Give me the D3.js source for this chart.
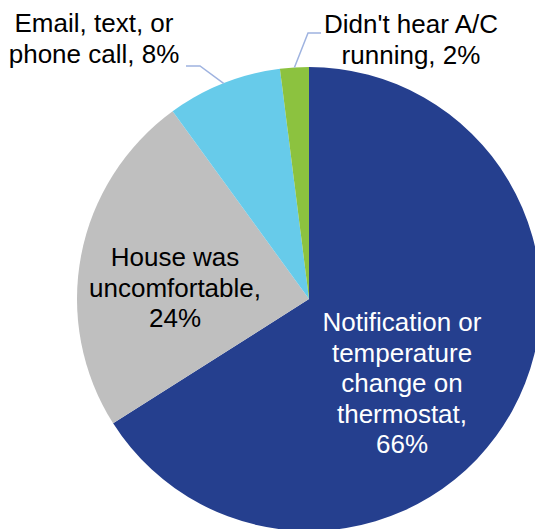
<!DOCTYPE html>
<html>
<head>
<meta charset="utf-8">
<script src="https://cdn.jsdelivr.net/npm/d3@7"></script>
<style>
  html, body { margin: 0; padding: 0; background: #fff; }
  svg { display: block; }
  text { font-family: "Liberation Sans", Arial, sans-serif; }
</style>
</head>
<body>
<svg id="chart" width="535" height="529"></svg>
<script>
const categories = [
  "Notification or temperature change on thermostat",
  "House was uncomfortable",
  "Email, text, or phone call",
  "Didn't hear A/C running"
];
const values = [66, 24, 8, 2];
const labelLines = [
  ["Notification or", "temperature", "change on", "thermostat,", "66%"],
  ["House was", "uncomfortable,", "24%"],
  ["Email, text, or", "phone call, 8%"],
  ["Didn't hear A/C", "running, 2%"]
];
const colors = ["#253F8E", "#BFBFBF", "#67CBEA", "#8CC23F"];

const W = 535, H = 529;
const cx = 309, cy = 299, R = 232;
const fontSize = 26, lineH = 30.5;

const svg = d3.select("#chart");
const g = svg.append("g").attr("transform", `translate(${cx},${cy})`);

const data = categories.map((c, i) => ({ cat: c, value: values[i], lines: labelLines[i], color: colors[i] }));

const pie = d3.pie().sort(null).value(d => d.value).startAngle(0).endAngle(2 * Math.PI);
const arc = d3.arc().innerRadius(0).outerRadius(R);
const arcs = pie(data);

g.selectAll("path.slice")
  .data(arcs)
  .join("path")
  .attr("class", "slice")
  .attr("d", arc)
  .attr("fill", d => d.data.color);

// label layout: [x, firstBaselineY, fill, leader start points (or null)]
const layout = [
  { x: 402, y: 331, fill: "#fff", leader: null },
  { x: 175, y: 266, fill: "#000", leader: null },
  { x: 94,  y: 32,  fill: "#000", leader: [[186, 66], [200, 66]] },
  { x: 411, y: 33,  fill: "#000", leader: [[321, 33], [308, 33]] }
];

arcs.forEach((a, i) => {
  const L = layout[i];
  if (L.leader) {
    const mid = (a.startAngle + a.endAngle) / 2;
    const ex = cx + R * Math.sin(mid);
    const ey = cy - R * Math.cos(mid);
    const pts = L.leader.concat([[ex, ey]]);
    svg.append("path")
      .attr("d", d3.line()(pts))
      .attr("fill", "none")
      .attr("stroke", "#9FB3E0")
      .attr("stroke-width", 1.5);
  }
  const t = svg.append("text")
    .attr("text-anchor", "middle")
    .attr("font-size", fontSize)
    .attr("fill", L.fill);
  a.data.lines.forEach((ln, j) => {
    t.append("tspan").attr("x", L.x).attr("y", L.y + j * lineH).text(ln);
  });
});
</script>
</body>
</html>
